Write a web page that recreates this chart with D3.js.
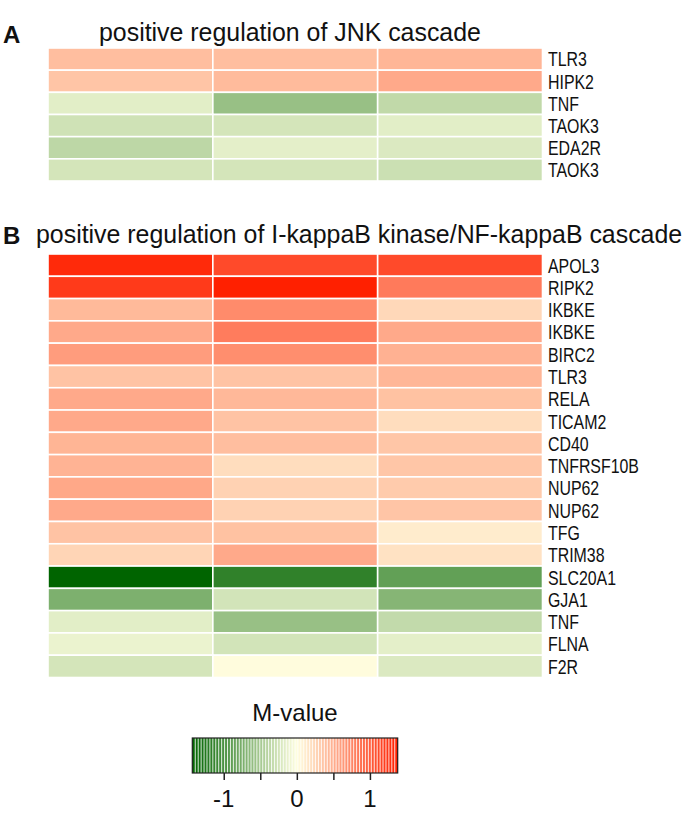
<!DOCTYPE html>
<html><head><meta charset="utf-8">
<script src="https://cdn.jsdelivr.net/npm/d3@7"></script>
<style>html,body{margin:0;padding:0;background:#fff}svg{display:block}text{font-family:"Liberation Sans",Arial,sans-serif;fill:#111}</style>
</head><body>
<script>
// ---- data ----
const samples = ["S1","S2","S3"];
const genesA = ["TLR3","HIPK2","TNF","TAOK3","EDA2R","TAOK3"];
const valuesA = [
  [0.40, 0.40, 0.45],
  [0.36, 0.42, 0.53],
  [-0.16,-0.58,-0.35],
  [-0.27,-0.24,-0.16],
  [-0.37,-0.15,-0.20],
  [-0.24,-0.24,-0.29]
];
const genesB = ["APOL3","RIPK2","IKBKE","IKBKE","BIRC2","TLR3","RELA","TICAM2","CD40","TNFRSF10B","NUP62","NUP62","TFG","TRIM38","SLC20A1","GJA1","TNF","FLNA","F2R"];
const valuesB = [
  [1.32, 1.12, 1.12],
  [1.22, 1.38, 0.82],
  [0.43, 0.72, 0.24],
  [0.53, 0.81, 0.53],
  [0.61, 0.70, 0.48],
  [0.37, 0.37, 0.45],
  [0.53, 0.44, 0.38],
  [0.53, 0.37, 0.21],
  [0.46, 0.40, 0.35],
  [0.47, 0.21, 0.35],
  [0.54, 0.28, 0.32],
  [0.53, 0.28, 0.36],
  [0.37, 0.38, 0.12],
  [0.26, 0.53, 0.18],
  [-1.43,-1.16,-0.88],
  [-0.73,-0.25,-0.68],
  [-0.16,-0.58,-0.34],
  [-0.11,-0.25,-0.15],
  [-0.24, 0.02,-0.20]
];
const titleA = "positive regulation of JNK cascade";
const titleB = "positive regulation of I-kappaB kinase/NF-kappaB cascade";
const legendTitle = "M-value";
const legendTicks = [-1,-0.5,0,0.5,1];
const legendTickLabels = [-1,0,1];
const legendBins = 70;

// ---- layout ----
const W = 685, H = 816;
const svg = d3.select("body").append("svg").attr("width",W).attr("height",H);
const allVals = valuesA.flat().concat(valuesB.flat());
const vmin = d3.min(allVals), vmax = d3.max(allVals);
const color = d3.scaleLinear().domain([vmin,0,vmax]).range(["#006400","#FFFFE0","#FF2000"]).clamp(true);

const x = d3.scaleBand().domain(samples).range([48,542.5]).padding(0);

const LABEL_FS = 20.5;
const probe = svg.append("text").attr("font-size",LABEL_FS).attr("font-family",'"Liberation Sans Narrow"').text("TNFRSF10B");
const probeW = probe.node().getComputedTextLength();
probe.remove();
const labelSX = Math.min(1, 91 / probeW);

function stretchText(g, str, xPos, yPos, size, sx, anchor, weight){
  const t = g.append("text").attr("transform",`translate(${xPos},${yPos}) scale(${sx},1)`)
    .attr("font-size",size).attr("text-anchor",anchor||"start").text(str);
  if(weight) t.attr("font-weight",weight);
  return t;
}

function heat(genes, values, y0, y1, letter, title, letterY, titleX, titleY){
  const y = d3.scaleBand().domain(d3.range(genes.length)).range([y0,y1]).padding(0);
  const g = svg.append("g");
  values.forEach((row,i)=>{
    g.selectAll(null).data(row).enter().append("rect")
      .attr("x",(d,j)=>x(samples[j])).attr("y",y(i))
      .attr("width",x.bandwidth()).attr("height",y.bandwidth())
      .attr("fill",d=>color(d)).attr("stroke","#fff").attr("stroke-width",1.6);
  });
  const ax = d3.axisRight(y).tickSize(0).tickPadding(0).tickFormat(i=>genes[i]);
  const axg = svg.append("g").attr("transform",`translate(548,0)`).call(ax);
  axg.select(".domain").remove();
  axg.selectAll("text").attr("font-size",LABEL_FS).attr("font-family",'"Liberation Sans Narrow"')
     .attr("fill","#111").attr("dy","0.36em").attr("x",0).attr("transform",`scale(${labelSX},1)`);
  stretchText(svg, letter, 3, letterY, 24, 1, "start", "bold");
  stretchText(svg, title, titleX, titleY, 24.9, 1, "start");
}

heat(genesA, valuesA, 48, 181, "A", titleA, 43, 99, 41);
heat(genesB, valuesB, 254, 677.5, "B", titleB, 244, 36, 243);

// ---- legend ----
const lx = d3.scaleLinear().domain([vmin,vmax]).range([192.3,397.7]);
const ly0 = 738, ly1 = 773;
const bins = d3.range(legendBins).map(i=>vmin + (vmax-vmin)*(i+0.5)/legendBins);
const bw = (lx.range()[1]-lx.range()[0])/legendBins;
const lg = svg.append("g");
lg.selectAll("rect.bin").data(bins).enter().append("rect")
  .attr("x",(d,i)=>lx.range()[0]+i*bw).attr("y",ly0).attr("width",bw+0.1).attr("height",ly1-ly0)
  .attr("fill",d=>color(d));
lg.selectAll("line.sep").data(d3.range(1,legendBins)).enter().append("line")
  .attr("x1",i=>lx.range()[0]+i*bw).attr("x2",i=>lx.range()[0]+i*bw)
  .attr("y1",ly0).attr("y2",ly1).attr("stroke","#fff").attr("stroke-width",0.9).attr("stroke-opacity",0.9);
lg.append("rect").attr("x",lx.range()[0]).attr("y",ly0).attr("width",lx.range()[1]-lx.range()[0]).attr("height",ly1-ly0)
  .attr("fill","none").attr("stroke","#222").attr("stroke-width",1.2);
const lax = d3.axisBottom(lx).tickValues(legendTicks).tickSize(7).tickFormat("");
const laxg = svg.append("g").attr("transform",`translate(0,${ly1})`).call(lax);
laxg.select(".domain").remove();
laxg.selectAll("line").attr("stroke","#222").attr("stroke-width",1.5);
legendTickLabels.forEach(v=>stretchText(svg, String(v), lx(v), 807, 24, 1, "middle"));
stretchText(svg, legendTitle, 295, 721, 24, 1, "middle");
</script>
</body></html>
